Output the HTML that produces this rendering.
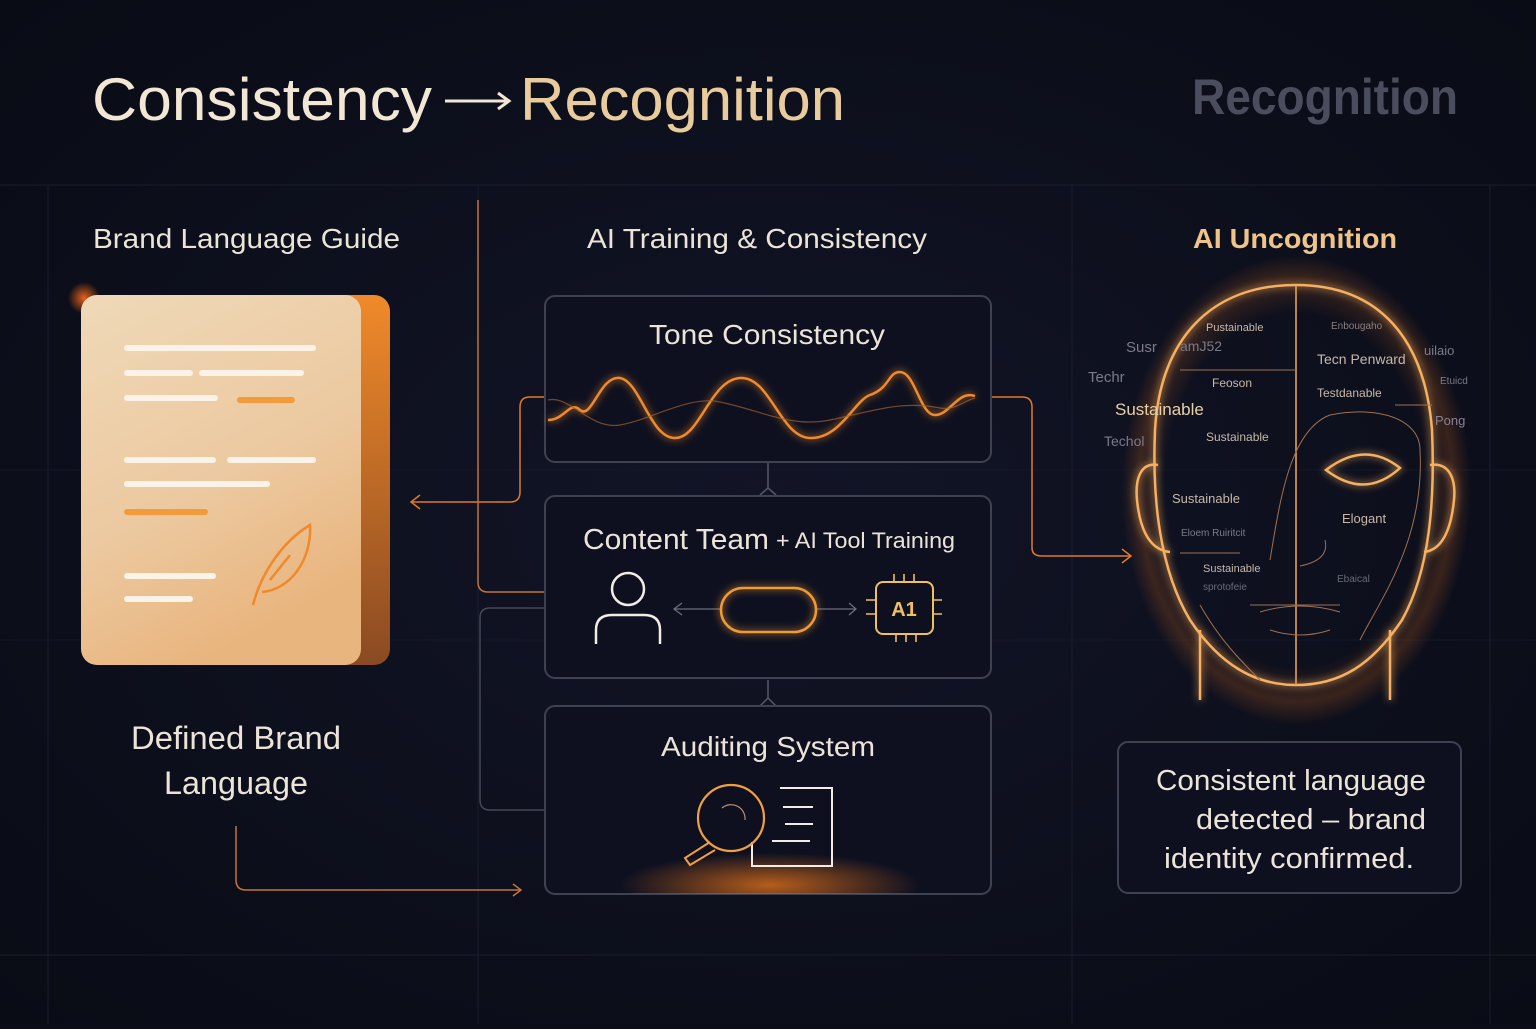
<!DOCTYPE html>
<html><head><meta charset="utf-8"><style>
html,body{margin:0;padding:0;background:#0b0d19;}
body{width:1536px;height:1024px;overflow:hidden;font-family:"Liberation Sans",sans-serif;}
</style></head><body>
<svg width="1536" height="1024" viewBox="0 0 1536 1024" xmlns="http://www.w3.org/2000/svg" font-family="Liberation Sans, sans-serif">
<defs>
<radialGradient id="bg" cx="50%" cy="50%" r="70%"><stop offset="0" stop-color="#121527"/><stop offset="1" stop-color="#090b15"/></radialGradient>
<linearGradient id="doc" x1="0" y1="0" x2="0.4" y2="1"><stop offset="0" stop-color="#efd9b8"/><stop offset="0.6" stop-color="#ecc9a0"/><stop offset="1" stop-color="#e9b57e"/></linearGradient>
<linearGradient id="docside" x1="0" y1="0" x2="0" y2="1"><stop offset="0" stop-color="#f08a2a"/><stop offset="1" stop-color="#8a4a22"/></linearGradient>
<radialGradient id="headglow" cx="50%" cy="50%" r="50%"><stop offset="0.75" stop-color="#c0611c" stop-opacity="0"/><stop offset="0.9" stop-color="#c0611c" stop-opacity="0.25"/><stop offset="1" stop-color="#c0611c" stop-opacity="0"/></radialGradient>
<radialGradient id="auditglow" cx="50%" cy="50%" r="50%"><stop offset="0" stop-color="#e0701a" stop-opacity="0.8"/><stop offset="1" stop-color="#e0701a" stop-opacity="0"/></radialGradient>
<radialGradient id="dot" cx="50%" cy="50%" r="50%"><stop offset="0" stop-color="#ff6a1a" stop-opacity="0.9"/><stop offset="1" stop-color="#ff6a1a" stop-opacity="0"/></radialGradient>
<clipPath id="abox"><rect x="545" y="706" width="446" height="188" rx="10"/></clipPath>
<filter id="gl" x="-50%" y="-50%" width="200%" height="200%"><feGaussianBlur stdDeviation="4" result="b"/><feMerge><feMergeNode in="b"/><feMergeNode in="SourceGraphic"/></feMerge></filter>
</defs>
<rect width="1536" height="1024" fill="url(#bg)"/>
<g stroke="#1a1d2e" stroke-width="1">
<line x1="0" y1="185" x2="1536" y2="185"/><line x1="0" y1="955" x2="1536" y2="955"/>
<line x1="48" y1="185" x2="48" y2="1024"/><line x1="478" y1="185" x2="478" y2="1024"/>
<line x1="1072" y1="185" x2="1072" y2="1024"/><line x1="1490" y1="185" x2="1490" y2="1024"/>
<line x1="0" y1="470" x2="1536" y2="470" stroke="#14172a"/><line x1="0" y1="640" x2="1536" y2="640" stroke="#14172a"/>
</g>
<text x="92" y="120" font-size="60" fill="#f2e6d4" textLength="340" lengthAdjust="spacingAndGlyphs">Consistency</text>
<path d="M445 101 H508 M498 93 L509 101 L498 109" fill="none" stroke="#f2e6d4" stroke-width="3"/>
<text x="520" y="120" font-size="60" fill="#e9cc9d" textLength="325" lengthAdjust="spacingAndGlyphs">Recognition</text>
<text x="1192" y="114" font-size="50" fill="#4a4d5e" font-weight="bold" textLength="266" lengthAdjust="spacingAndGlyphs">Recognition</text>

<text x="93" y="248" font-size="28" fill="#ece4d8" textLength="307" lengthAdjust="spacingAndGlyphs">Brand Language Guide</text>
<text x="587" y="248" font-size="28" fill="#ece4d8" textLength="340" lengthAdjust="spacingAndGlyphs">AI Training &amp; Consistency</text>
<text x="1193" y="248" font-size="28" fill="#eec48a" font-weight="bold" textLength="204" lengthAdjust="spacingAndGlyphs">AI Uncognition</text>

<!-- document -->
<circle cx="84" cy="298" r="16" fill="url(#dot)"/>
<rect x="100" y="295" width="290" height="370" rx="16" fill="url(#docside)"/>
<rect x="81" y="295" width="280" height="370" rx="16" fill="url(#doc)"/>
<g stroke-linecap="round" stroke-width="6">
<line x1="127" y1="348" x2="313" y2="348" stroke="#fbf3e8"/>
<line x1="127" y1="373" x2="190" y2="373" stroke="#fbf3e8"/><line x1="202" y1="373" x2="301" y2="373" stroke="#fbf3e8"/>
<line x1="127" y1="398" x2="215" y2="398" stroke="#fbf3e8"/><line x1="240" y1="400" x2="292" y2="400" stroke="#f39a3a"/>
<line x1="127" y1="460" x2="213" y2="460" stroke="#fbf3e8"/><line x1="230" y1="460" x2="313" y2="460" stroke="#fbf3e8"/>
<line x1="127" y1="484" x2="267" y2="484" stroke="#fbf3e8"/>
<line x1="127" y1="512" x2="205" y2="512" stroke="#f39a3a"/>
<line x1="127" y1="576" x2="213" y2="576" stroke="#fbf3e8"/>
<line x1="127" y1="599" x2="190" y2="599" stroke="#fbf3e8"/>
</g>
<path d="M253 605 C262 570 285 540 310 525 C312 560 290 590 262 592 M270 580 L290 555" fill="none" stroke="#f0892a" stroke-width="2.5"/>
<text x="236" y="749" font-size="32" fill="#ece4d8" text-anchor="middle" textLength="210" lengthAdjust="spacingAndGlyphs">Defined Brand</text>
<text x="236" y="794" font-size="32" fill="#ece4d8" text-anchor="middle" textLength="144" lengthAdjust="spacingAndGlyphs">Language</text>

<!-- connectors -->
<g fill="none" stroke-width="1.5">
<path d="M236 826 V880 Q236 890 246 890 H520" stroke="#c27538"/>
<path d="M513 884 L521 890 L513 896" stroke="#c27538"/>
<path d="M545 397 H530 Q520 397 520 407 V492 Q520 502 510 502 H412" stroke="#e07a2a"/>
<path d="M420 495 L411 502 L420 509" stroke="#e07a2a"/>
<path d="M478 200 V582 Q478 592 488 592 H545" stroke="#c27538"/>
<path d="M545 608 H490 Q480 608 480 618 V800 Q480 810 490 810 H545" stroke="#444757"/>
<path d="M975 397 H1022 Q1032 397 1032 407 V548 Q1032 556 1042 556 H1130" stroke="#e07a2a"/>
<path d="M1122 549 L1131 556 L1122 563" stroke="#e07a2a"/>
<path d="M768 463 V488 L760 495 M768 488 L776 495 M768 680 V698 L760 706 M768 698 L776 706" stroke="#555868"/>
</g>

<!-- boxes -->
<g fill="#0e1020" stroke="#3e4152" stroke-width="2">
<rect x="545" y="296" width="446" height="166" rx="10"/>
<rect x="545" y="496" width="446" height="182" rx="10"/>
<rect x="545" y="706" width="446" height="188" rx="10"/>
</g>
<text x="767" y="344" font-size="28" fill="#ece4d8" text-anchor="middle" textLength="236" lengthAdjust="spacingAndGlyphs">Tone Consistency</text>
<path d="M548 420 C565 420 570 400 580 410 C592 420 600 375 620 378 C640 381 650 438 675 438 C700 438 710 380 740 378 C770 376 780 437 810 438 C840 439 855 400 870 395 C890 388 888 372 900 372 C915 372 920 415 935 415 C950 415 958 390 975 396" fill="none" stroke="#f08a2a" stroke-width="2.5" filter="url(#gl)"/>
<path d="M548 400 C570 395 590 430 620 425 C650 420 690 395 720 402 C760 410 790 428 830 420 C870 412 900 400 940 408 C955 411 965 400 975 398" fill="none" stroke="#a06030" stroke-width="1.2" opacity="0.7"/>

<text x="583" y="549" font-size="29" fill="#ece4d8" textLength="186" lengthAdjust="spacingAndGlyphs">Content Team</text>
<text x="776" y="548" font-size="22" fill="#ece4d8" textLength="179" lengthAdjust="spacingAndGlyphs">+ AI Tool Training</text>
<circle cx="628" cy="589" r="16" fill="none" stroke="#f2ece4" stroke-width="2.5"/>
<path d="M596 644 V630 Q596 615 612 615 H644 Q660 615 660 630 V644" fill="none" stroke="#f2ece4" stroke-width="2.5"/>
<g stroke="#6a6d7a" stroke-width="1.3" fill="none">
<path d="M675 609 H720 M682 603 L674 609 L682 615"/>
<path d="M816 609 H855 M849 603 L856 609 L849 615"/>
</g>
<rect x="721" y="588" width="95" height="44" rx="22" fill="none" stroke="#f09a32" stroke-width="2.5" filter="url(#gl)"/>
<rect x="876" y="582" width="57" height="52" rx="7" fill="none" stroke="#f0c060" stroke-width="2"/>
<g stroke="#f0c060" stroke-width="1.6"><path d="M894 574 V582 M904 574 V582 M914 574 V582 M896 634 V642 M906 634 V642 M916 634 V642 M866 600 H876 M866 614 H876 M933 600 H942 M933 614 H942"/></g>
<text x="904" y="616" font-size="20" font-weight="bold" fill="#f0c060" text-anchor="middle">A1</text>

<text x="768" y="756" font-size="28" fill="#ece4d8" text-anchor="middle" textLength="214" lengthAdjust="spacingAndGlyphs">Auditing System</text>
<g clip-path="url(#abox)"><ellipse cx="770" cy="885" rx="150" ry="32" fill="url(#auditglow)"/></g>
<path d="M752 842 V866 H832 V788 H780" fill="none" stroke="#f2ece4" stroke-width="2"/>
<g stroke="#f2ece4" stroke-width="2"><path d="M783 807 H813 M785 824 H813 M772 841 H810"/></g>
<circle cx="731" cy="818" r="33" fill="none" stroke="#f0a040" stroke-width="2.2"/>
<path d="M722 808 A14 14 0 0 1 745 820" fill="none" stroke="#c09070" stroke-width="1.2"/>
<path d="M710 842 L685 858 L690 865 L715 850" fill="none" stroke="#f0a040" stroke-width="2"/>

<!-- head -->
<ellipse cx="1296" cy="490" rx="175" ry="235" fill="url(#headglow)"/>
<g fill="none" stroke="#f6b060" stroke-width="2.5" filter="url(#gl)">
<path d="M1296 285 C1210 285 1160 340 1155 430 C1152 500 1160 570 1190 620 C1220 665 1255 685 1296 685 C1340 685 1372 665 1402 620 C1430 570 1435 500 1432 430 C1425 340 1380 285 1296 285 Z"/>
<path d="M1158 465 C1140 462 1135 480 1137 500 C1140 530 1150 550 1170 552"/>
<path d="M1430 465 C1450 462 1456 480 1454 500 C1451 530 1442 550 1424 552"/>
<path d="M1200 630 V700 M1390 630 V700"/>
<path d="M1326 470 Q1365 440 1400 468 Q1365 500 1326 470 Z"/>
</g>
<line x1="1296" y1="285" x2="1296" y2="685" stroke="#e8a050" stroke-width="1.6"/>
<g stroke="#a07050" stroke-width="1" fill="none">
<path d="M1180 370 H1296 M1395 405 H1432"/>
<path d="M1270 560 C1280 500 1290 430 1330 415 C1380 405 1420 420 1420 450 C1425 540 1380 600 1360 640"/>
<path d="M1200 605 C1220 640 1240 660 1260 680"/>
<path d="M1250 605 H1340 M1260 612 Q1300 600 1340 612 M1270 630 Q1300 640 1330 630"/>
<path d="M1180 553 H1240 M1300 566 Q1330 560 1325 540"/>
</g>
<g font-size="12" fill="#c8b8a8">
<text x="1206" y="331" font-size="11">Pustainable</text>
<text x="1331" y="329" font-size="10" fill="#8a7f80">Enbougaho</text>
<text x="1126" y="352" font-size="15" fill="#7a7a88">Susr</text><text x="1180" y="351" font-size="14" fill="#7a7a88">amJ52</text>
<text x="1088" y="382" font-size="15" fill="#7a7a88">Techr</text>
<text x="1212" y="387" font-size="12">Feoson</text>
<text x="1317" y="364" font-size="14">Tecn Penward</text>
<text x="1317" y="397" font-size="12">Testdanable</text>
<text x="1115" y="415" font-size="17" fill="#e8d0a8">Sustainable</text>
<text x="1104" y="446" font-size="14" fill="#7a7a88">Techol</text>
<text x="1206" y="441" font-size="12">Sustainable</text>
<text x="1172" y="503" font-size="13">Sustainable</text>
<text x="1342" y="523" font-size="13">Elogant</text>
<text x="1181" y="536" font-size="10" fill="#7a7a88">Eloem Ruiritcit</text>
<text x="1203" y="572" font-size="11">Sustainable</text>
<text x="1203" y="590" font-size="10" fill="#6a6a78">sprotofeie</text>
<text x="1337" y="582" font-size="10" fill="#6a6a78">Ebaical</text>
<text x="1424" y="355" font-size="13" fill="#7a7a88">uilaio</text>
<text x="1440" y="384" font-size="10" fill="#7a7a88">Etuicd</text>
<text x="1435" y="425" font-size="13" fill="#8a8090">Pong</text>
</g>

<rect x="1118" y="742" width="343" height="151" rx="10" fill="#0e1020" stroke="#3e4152" stroke-width="2"/>
<g font-size="29" fill="#ece4d8" text-anchor="end">
<text x="1426" y="790" textLength="270" lengthAdjust="spacingAndGlyphs">Consistent language</text>
<text x="1426" y="829" textLength="230" lengthAdjust="spacingAndGlyphs">detected – brand</text>
<text x="1414" y="868" textLength="250" lengthAdjust="spacingAndGlyphs">identity confirmed.</text>
</g>
</svg>
</body></html>
